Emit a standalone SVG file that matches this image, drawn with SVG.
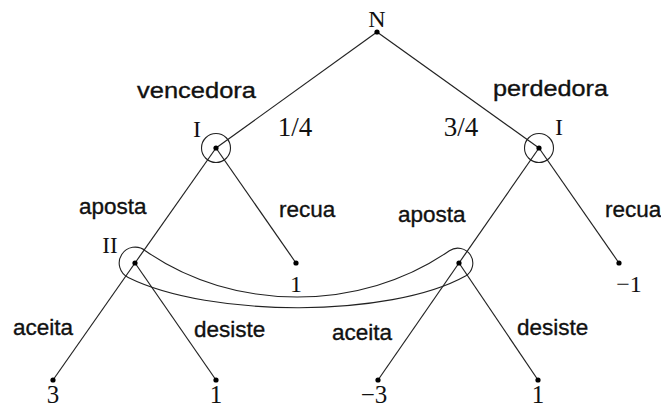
<svg xmlns="http://www.w3.org/2000/svg" width="661" height="408" viewBox="0 0 661 408">
  <style>
    .edge { stroke: #222; stroke-width: 1.2; fill: none; }
    .ring { stroke: #222; stroke-width: 1.1; fill: none; }
    .dot { fill: #000; }
    .lbl { font-family: "Liberation Sans", Arial, sans-serif; font-size: 22.5px; fill: #111; stroke: #111; stroke-width: 0.35; }
    .math { font-family: "Liberation Serif", "Times New Roman", serif; font-size: 24px; fill: #111; text-anchor: middle; }
    .frac { font-size: 27px; }
    .pay { font-size: 25px; }
  </style>

  <rect width="661" height="408" fill="#fff"/>

  <!-- branches of the tree -->
  <g id="connectors">
    <line class="edge" x1="377" y1="32" x2="216" y2="148"/>
    <line class="edge" x1="377" y1="32" x2="539" y2="148"/>
    <line class="edge" x1="216" y1="148" x2="135" y2="263"/>
    <line class="edge" x1="216" y1="148" x2="296" y2="263"/>
    <line class="edge" x1="539" y1="148" x2="459" y2="263"/>
    <line class="edge" x1="539" y1="148" x2="619" y2="263"/>
    <line class="edge" x1="135" y1="263" x2="53" y2="380"/>
    <line class="edge" x1="135" y1="263" x2="216" y2="380"/>
    <line class="edge" x1="459" y1="263" x2="378" y2="380"/>
    <line class="edge" x1="459" y1="263" x2="538" y2="380"/>
  </g>

  <!-- chance node -->
  <g id="node-N">
    <circle class="dot" cx="377" cy="32" r="2.6"/>
    <text class="math" x="377" y="27">N</text>
  </g>

  <!-- player I, winning card -->
  <g id="node-I-left">
    <circle class="ring" cx="216" cy="148" r="14.5"/>
    <circle class="dot" cx="216" cy="148" r="2.6"/>
    <text class="math" x="197" y="137">I</text>
    <text class="math frac" x="295" y="136">1/4</text>
    <text class="lbl" x="137" y="98" textLength="119" lengthAdjust="spacingAndGlyphs">vencedora</text>
  </g>

  <!-- player I, losing card -->
  <g id="node-I-right">
    <circle class="ring" cx="539" cy="148" r="14.5"/>
    <circle class="dot" cx="539" cy="148" r="2.6"/>
    <text class="math" x="559" y="135">I</text>
    <text class="math frac" x="461" y="136">3/4</text>
    <text class="lbl" x="493" y="96" textLength="115" lengthAdjust="spacingAndGlyphs">perdedora</text>
  </g>

  <!-- player II information set -->
  <g id="infoset-II">
    <path class="ring" d="M145.3,250.7 A16,16 0 1 0 128.2,277.5 C210,318 390,318 465.5,276 A15,15 0 1 0 449.4,250.7 C361,312.4 233,312.4 145.3,250.7 Z"/>
    <text class="math" x="110" y="253" style="font-size:23px">II</text>
  </g>

  <g id="node-II-left">
    <circle class="dot" cx="135" cy="263" r="2.6"/>
    <text class="lbl" x="79" y="214">aposta</text>
  </g>

  <g id="node-II-right">
    <circle class="dot" cx="459" cy="263" r="2.6"/>
    <text class="lbl" x="398" y="222">aposta</text>
  </g>

  <!-- payoffs -->
  <g id="leaf-recua-left">
    <circle class="dot" cx="296" cy="263" r="2.6"/>
    <text class="lbl" x="279" y="217">recua</text>
    <text class="math" x="296" y="292">1</text>
  </g>

  <g id="leaf-recua-right">
    <circle class="dot" cx="619" cy="263" r="2.6"/>
    <text class="lbl" x="605" y="217">recua</text>
    <text class="math" x="629" y="292">−1</text>
  </g>

  <g id="leaf-aceita-left">
    <circle class="dot" cx="53" cy="380" r="2.6"/>
    <text class="lbl" x="13" y="335">aceita</text>
    <text class="math pay" x="53" y="403">3</text>
  </g>

  <g id="leaf-desiste-left">
    <circle class="dot" cx="216" cy="380" r="2.6"/>
    <text class="lbl" x="194" y="337">desiste</text>
    <text class="math pay" x="216" y="403">1</text>
  </g>

  <g id="leaf-aceita-right">
    <circle class="dot" cx="378" cy="380" r="2.6"/>
    <text class="lbl" x="332" y="340">aceita</text>
    <text class="math pay" x="374" y="403">−3</text>
  </g>

  <g id="leaf-desiste-right">
    <circle class="dot" cx="538" cy="380" r="2.6"/>
    <text class="lbl" x="517" y="335">desiste</text>
    <text class="math pay" x="538" y="403">1</text>
  </g>
</svg>
